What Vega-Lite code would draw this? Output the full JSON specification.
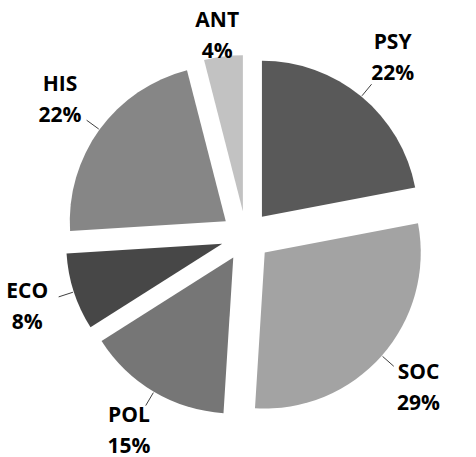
{
  "$schema": "https://vega.github.io/schema/vega-lite/v6.json",
  "description": "Exploded pie of enrolment share by subject, each slice pushed out along its bisector with its label beyond the rim.",
  "width": 476,
  "height": 457,
  "autosize": {"type": "none"},
  "padding": 0,
  "background": "white",
  "view": {"stroke": null},
  "data": {
    "values": [
      {"subject": "PSY", "share": 22},
      {"subject": "SOC", "share": 29},
      {"subject": "POL", "share": 15},
      {"subject": "ECO", "share": 8},
      {"subject": "HIS", "share": 22},
      {"subject": "ANT", "share": 4}
    ]
  },
  "transform": [
    {"window": [{"op": "sum", "field": "share", "as": "cum"}], "frame": [null, 0]},
    {"calculate": "datum.cum - datum.share", "as": "a0"},
    {"calculate": "(datum.cum - datum.share / 2) * 2 * PI / 100", "as": "mid"},
    {"calculate": "sin(datum.mid)", "as": "ux"},
    {"calculate": "cos(datum.mid)", "as": "uy"},
    {"calculate": "7.28 * datum.ux", "as": "l0x"},
    {"calculate": "7.28 * datum.uy", "as": "l0y"},
    {"calculate": "7.88 * datum.ux", "as": "l1x"},
    {"calculate": "7.88 * datum.uy", "as": "l1y"},
    {"calculate": "clamp(9.2 * datum.ux, -8.84, 8.2)", "as": "tx"},
    {"calculate": "clamp(9.2 * datum.uy, -7.8, 8.0)", "as": "ty"},
    {"calculate": "[datum.subject, datum.share + '%']", "as": "label"}
  ],
  "layer": [
    {
      "mark": {"type": "arc", "outerRadius": 156, "strokeWidth": 0},
      "encoding": {
        "x": {"field": "ux", "type": "quantitative", "axis": null, "scale": {"domain": [-9.84, 9.2], "nice": false, "zero": false}},
        "y": {"field": "uy", "type": "quantitative", "axis": null, "scale": {"domain": [-8.84, 9.44], "nice": false, "zero": false}},
        "theta": {"field": "a0", "type": "quantitative", "stack": null, "scale": {"domain": [0, 100], "range": [0, 6.283185307179586]}},
        "theta2": {"field": "cum"},
        "color": {
          "field": "subject",
          "type": "nominal",
          "legend": null,
          "scale": {
            "domain": ["PSY", "SOC", "POL", "ECO", "HIS", "ANT"],
            "range": ["#595959", "#a3a3a3", "#767676", "#474747", "#868686", "#c2c2c2"]
          }
        }
      }
    },
    {
      "transform": [{"filter": "datum.share > 5"}],
      "mark": {"type": "rule", "color": "#404040", "strokeWidth": 1},
      "encoding": {
        "x": {"field": "l0x", "type": "quantitative", "axis": null, "scale": {"domain": [-9.84, 9.2], "nice": false, "zero": false}},
        "y": {"field": "l0y", "type": "quantitative", "axis": null, "scale": {"domain": [-8.84, 9.44], "nice": false, "zero": false}},
        "x2": {"field": "l1x"},
        "y2": {"field": "l1y"}
      }
    },
    {
      "mark": {"type": "text", "font": "Open Sans", "fontWeight": "bold", "fontSize": 21, "lineHeight": 31, "dy": -15.5, "align": "center", "baseline": "middle", "color": "black"},
      "encoding": {
        "x": {"field": "tx", "type": "quantitative", "axis": null, "scale": {"domain": [-9.84, 9.2], "nice": false, "zero": false}},
        "y": {"field": "ty", "type": "quantitative", "axis": null, "scale": {"domain": [-8.84, 9.44], "nice": false, "zero": false}},
        "text": {"field": "label"}
      }
    }
  ]
}
